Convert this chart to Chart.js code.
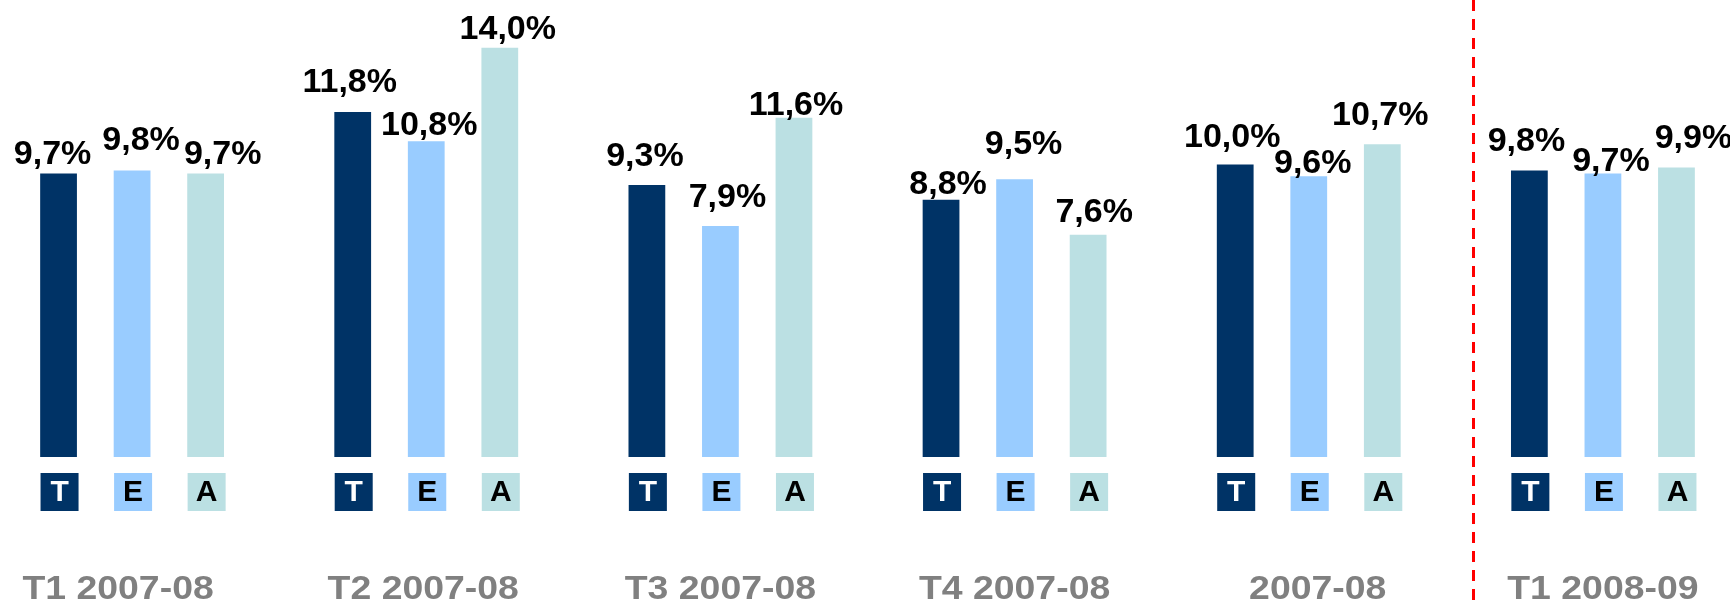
<!DOCTYPE html>
<html>
<head>
<meta charset="utf-8">
<script src="https://cdn.jsdelivr.net/npm/chart.js@4/dist/chart.umd.min.js"></script>
<style>
  html, body { margin: 0; padding: 0; background: #ffffff; overflow: hidden; width: 1730px; height: 607px; }
  #wrap { position: absolute; left: -15px; top: 0; width: 1765px; height: 607px; }
</style>
</head>
<body>
<div id="wrap"><canvas id="c"></canvas></div>
<script>
// ---- data ----
const categories = ['T1 2007-08', 'T2 2007-08', 'T3 2007-08', 'T4 2007-08', '2007-08', 'T1 2008-09'];
const seriesCodes = ['T', 'E', 'A'];
const seriesT = [9.7, 11.8, 9.3, 8.8, 10.0, 9.8];
const seriesE = [9.8, 10.8, 7.9, 9.5, 9.6, 9.7];
const seriesA = [9.7, 14.0, 11.6, 7.6, 10.7, 9.9];

// ---- styling ----
const colors = ['#003366', '#99CCFF', '#BBE0E3'];
const codeTextColors = ['#ffffff', '#000000', '#000000'];
// hand-placed label nudges (px) as in the original slide
const labelNudgeT = [[-6, 0], [-3, -11], [-2, -10], [7, 3], [-3, -9], [-3, -10]];
const labelNudgeE = [[9, -11], [3, 3], [7, -10], [9, -16], [4, 6], [8, 7]];
const labelNudgeA = [[17, 0], [8, 0], [2, 6], [6, -4], [-2, -10], [17, -11]];
const labelNudges = [labelNudgeT, labelNudgeE, labelNudgeA];
const categoryNudge = [-14, -3, 0, 0, 9, 0];
const dividerAt = 4.56; // position on the category axis of the dashed separator

const fmt = v => v.toFixed(1).replace('.', ',') + '%';

const overlay = {
  id: 'overlay',
  afterDatasetsDraw(chart) {
    const ctx = chart.ctx;
    const area = chart.chartArea;
    const xs = chart.scales.x;
    ctx.save();
    // value labels and code boxes
    chart.data.datasets.forEach((ds, di) => {
      const meta = chart.getDatasetMeta(di);
      meta.data.forEach((bar, i) => {
        const nudge = labelNudges[di][i];
        ctx.font = 'bold 34px "Liberation Sans", Arial, sans-serif';
        ctx.fillStyle = '#000000';
        ctx.textAlign = 'center';
        ctx.textBaseline = 'alphabetic';
        ctx.fillText(fmt(ds.data[i]), bar.x + nudge[0], bar.y - 9 + nudge[1]);
        // code box
        const bw = 38;
        const top = area.bottom + 16;
        ctx.fillStyle = colors[di];
        ctx.fillRect(bar.x - bw / 2 + 1, top, bw, bw);
        ctx.fillStyle = codeTextColors[di];
        ctx.font = 'bold 30px "Liberation Sans", Arial, sans-serif';
        ctx.textBaseline = 'middle';
        ctx.fillText(seriesCodes[di], bar.x + 1, top + bw / 2 + 1);
      });
    });
    // category labels
    ctx.fillStyle = '#808080';
    ctx.font = 'bold 34px "Liberation Sans", Arial, sans-serif';
    ctx.textAlign = 'center';
    ctx.textBaseline = 'alphabetic';
    categories.forEach((lab, i) => {
      const x = xs.getPixelForValue(i) + categoryNudge[i];
      ctx.save();
      ctx.translate(x, 599);
      ctx.scale(1.1, 1);
      ctx.fillText(lab, 0, 0);
      ctx.restore();
    });
    // dashed separator
    const dx = Math.round(xs.getPixelForValue(dividerAt)) + 0.5;
    ctx.strokeStyle = '#FF0000';
    ctx.lineWidth = 3;
    ctx.setLineDash([11, 8]);
    ctx.beginPath();
    ctx.moveTo(dx, 0);
    ctx.lineTo(dx, chart.height);
    ctx.stroke();
    ctx.restore();
  }
};

const seriesValues = [seriesT, seriesE, seriesA];
new Chart(document.getElementById('c'), {
  type: 'bar',
  data: {
    labels: categories,
    datasets: seriesValues.map((vals, di) => ({
      label: seriesCodes[di],
      data: vals,
      backgroundColor: colors[di],
      borderWidth: 0,
      categoryPercentage: 0.75,
      barPercentage: 0.5
    }))
  },
  options: {
    responsive: true,
    maintainAspectRatio: false,
    devicePixelRatio: 1,
    animation: false,
    layout: { padding: { left: 0, right: 0, top: 0, bottom: 150 } },
    plugins: { legend: { display: false }, tooltip: { enabled: false } },
    scales: {
      x: { display: false, grid: { display: false } },
      y: { display: false, min: 0, max: 15.63, grid: { display: false } }
    }
  },
  plugins: [overlay]
});
</script>
</body>
</html>
